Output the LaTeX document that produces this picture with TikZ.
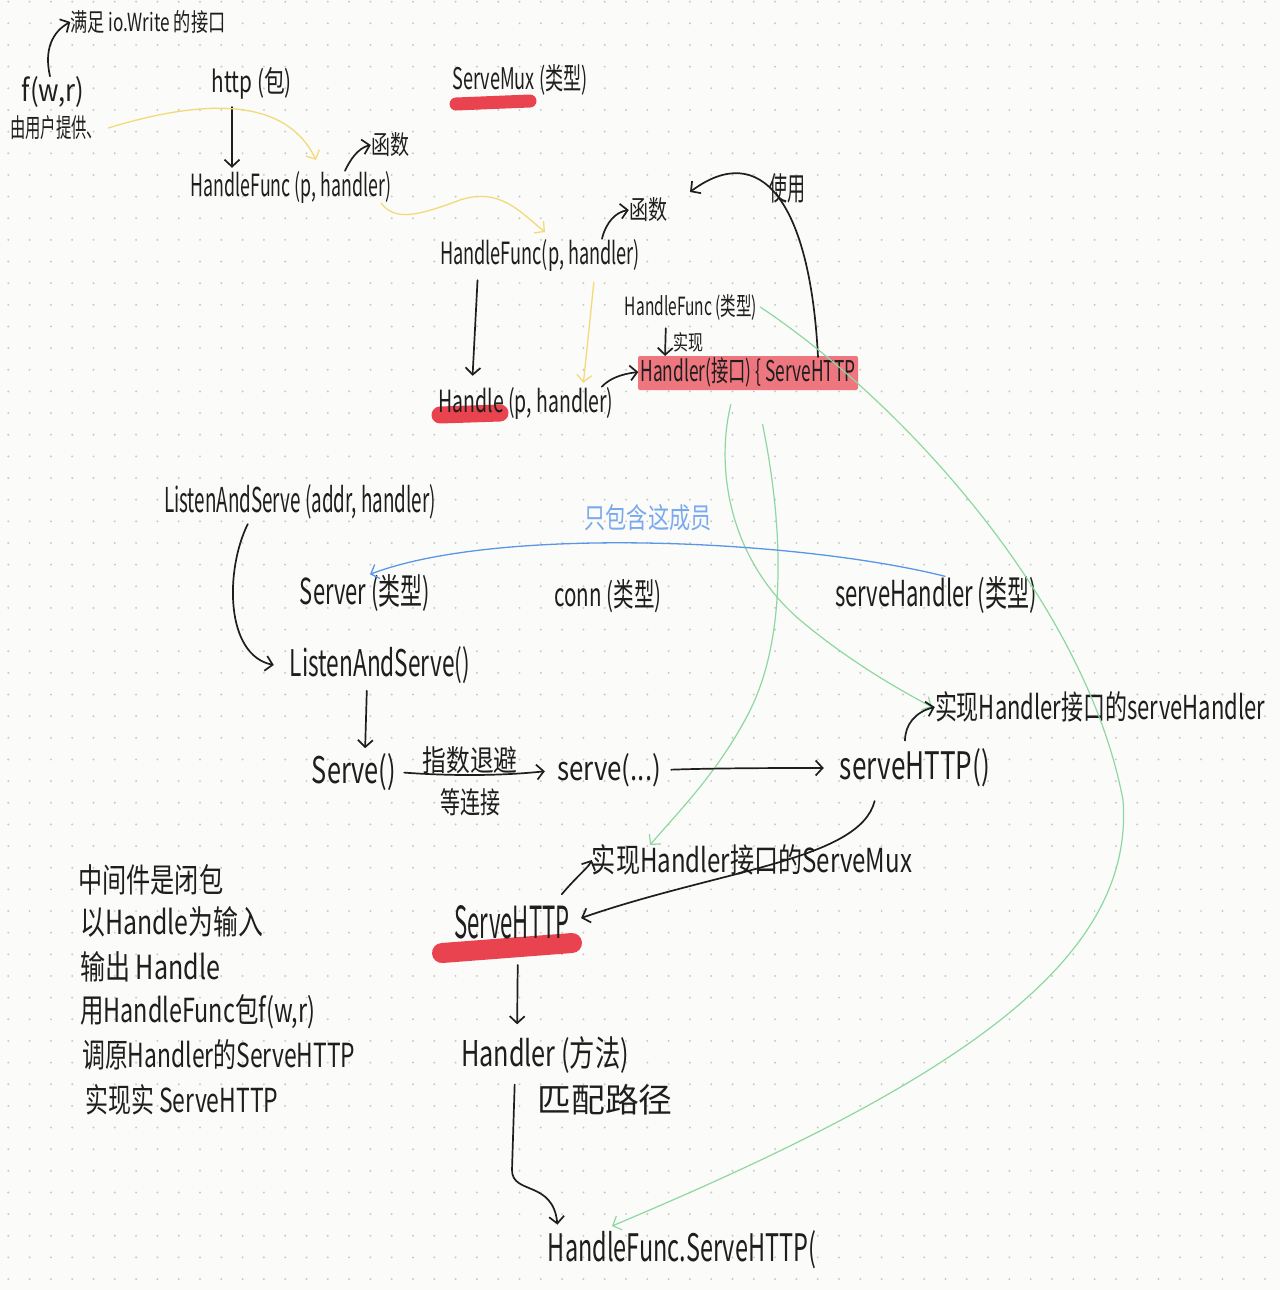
\documentclass[tikz,border=0pt]{standalone}
\usepackage{graphicx}
\usepackage{fontspec}
\setmainfont{Noto Sans CJK SC}
\usetikzlibrary{arrows.meta}
\definecolor{ink}{HTML}{1E1E1E}
\definecolor{paper}{HTML}{FBFBF9}
\definecolor{dotc}{HTML}{C9C9C9}
\definecolor{markred}{HTML}{E8303E}
\definecolor{hlyellow}{HTML}{F2DA7A}
\definecolor{hlgreen}{HTML}{8DD8A0}
\definecolor{hlblue}{HTML}{5A96E6}
\definecolor{bluetext}{HTML}{7AAAEE}
\newcommand{\hw}[3]{\resizebox{#1pt}{#2pt}{#3}}
\begin{document}
\begin{tikzpicture}[x=1pt,y=-1pt,
  lbl/.style={inner sep=0pt, text=ink},
  blk/.style={draw=ink, line width=1.7pt, line cap=round, line join=round},
  arr/.style={-{Straight Barb[length=7pt,width=15pt]}},
  ylw/.style={draw=hlyellow, line width=1.3pt, line cap=round},
  grn/.style={draw=hlgreen, line width=1.2pt, line cap=round},
  blu/.style={draw=hlblue, line width=1.3pt, line cap=round},
  redmark/.style={draw=markred, line cap=round, opacity=0.9}]
\useasboundingbox (0,0) rectangle (1280,1290);
\fill[paper] (0,0) rectangle (1280,1290);
\foreach \i in {0,...,59}{\foreach \j in {0,...,59}{\fill[dotc] (8.3+21.3*\i,1.7+21.65*\j) circle (1.1pt);}}
% highlights
\draw[redmark, line width=13pt] (456,104) -- (530,101);
\draw[redmark, line width=17pt] (440,415) -- (500,413);
\draw[redmark, line width=20pt] (442,953) -- (572,943);
\fill[markred, opacity=0.65, rounded corners=2pt] (638,356) rectangle (858,390);
% texts
\node[lbl] (io) at (148,22) {\hw{155}{21}{满足 io.Write 的接口}};
\node[lbl] (f) at (53,92) {\hw{62}{25}{f(w,r)}};
\node[lbl] (user) at (56,128) {\hw{92}{22}{由用户提供、}};
\node[lbl] (http) at (252,83) {\hw{80}{25}{http (包)}};
\node[lbl] (mux) at (520,80) {\hw{135}{25}{ServeMux (类型)}};
\node[lbl] (hf1) at (291,187) {\hw{200}{25}{HandleFunc (p, handler)}};
\node[lbl] (fn1) at (390,145) {\hw{38}{22}{函数}};
\node[lbl] (hf2) at (540,255) {\hw{200}{25}{HandleFunc(p, handler)}};
\node[lbl] (fn2) at (648,210) {\hw{38}{22}{函数}};
\node[lbl] (use) at (787,188) {\hw{36}{27}{使用}};
\node[lbl] (hftype) at (691,307) {\hw{132}{21}{HandleFunc (类型)}};
\node[lbl] (impl1) at (688,342) {\hw{30}{18}{实现}};
\node[lbl] (handler) at (748,372) {\hw{215}{24}{Handler(接口) \{ ServeHTTP}};
\node[lbl] (handle) at (526,403) {\hw{175}{25}{Handle (p, handler)}};
\node[lbl] (las1) at (300,502) {\hw{272}{28}{ListenAndServe (addr, handler)}};
\node[lbl, text=bluetext] (members) at (648,518) {\hw{127}{24}{只包含这成员}};
\node[lbl] (server) at (365,593) {\hw{130}{30}{Server (类型)}};
\node[lbl] (conn) at (608,596) {\hw{107}{27}{conn (类型)}};
\node[lbl] (sh) at (936,595) {\hw{202}{30}{serveHandler (类型)}};
\node[lbl] (las2) at (380,665) {\hw{180}{30}{ListenAndServe()}};
\node[lbl] (serve) at (354,772) {\hw{84}{30}{Serve()}};
\node[lbl] (backoff) at (470,760) {\hw{95}{25}{指数退避}};
\node[lbl] (wait) at (470,802) {\hw{60}{25}{等连接}};
\node[lbl] (serve2) at (609,770) {\hw{104}{27}{serve(...)}};
\node[lbl] (shttp) at (915,768) {\hw{150}{31}{serveHTTP()}};
\node[lbl] (implsh) at (1100,707) {\hw{330}{28}{实现Handler接口的serveHandler}};
\node[lbl] (implmux) at (752,860) {\hw{320}{28}{实现Handler接口的ServeMux}};
\node[lbl] (SHmain) at (512,922) {\hw{115}{33}{ServeHTTP}};
\node[lbl] (hmethod) at (545,1055) {\hw{168}{30}{Handler (方法)}};
\node[lbl] (match) at (605,1100) {\hw{135}{28}{匹配路径}};
\node[lbl] (hfsh) at (682,1250) {\hw{268}{31}{HandleFunc.ServeHTTP(}};
\node[lbl, anchor=west] (n1) at (78,880) {\hw{145}{28}{中间件是闭包}};
\node[lbl, anchor=west] (n2) at (80,922) {\hw{183}{28}{以Handle为输入}};
\node[lbl, anchor=west] (n3) at (80,967) {\hw{140}{28}{输出 Handle}};
\node[lbl, anchor=west] (n4) at (80,1012) {\hw{235}{28}{用HandleFunc包f(w,r)}};
\node[lbl, anchor=west] (n5) at (82,1055) {\hw{273}{28}{调原Handler的ServeHTTP}};
\node[lbl, anchor=west] (n6) at (85,1100) {\hw{193}{28}{实现实 ServeHTTP}};
% free ends
\coordinate (yend1) at (316,160);
\coordinate (yend2) at (545,232);
\coordinate (useend) at (690,192);
\coordinate (gend) at (612,1226);
\coordinate (gendb) at (650,845);
% connectors
\draw[blk,arr] ([xshift=-3pt]f.north) .. controls (44,50) and (52,32) .. (io.west);
\draw[blk,arr,shorten <=8pt,shorten >=3pt] ([xshift=-20pt]http.south) -- ([xshift=-59pt]hf1.north);
\draw[ylw,arr] ([xshift=6pt]user.east) .. controls (200,100) and (285,95) .. (yend1);
\draw[blk,arr] ([xshift=54pt]hf1.north) .. controls (350,160) and (358,148) .. (fn1.west);
\draw[ylw,arr] ([xshift=-10pt]hf1.south east) .. controls (395,222) and (420,215) .. (460,200) .. controls (500,187) and (520,212) .. (yend2);
\draw[blk,arr] ([xshift=62pt]hf2.north) .. controls (606,222) and (616,212) .. (fn2.west);
\draw[blk,arr,shorten <=9pt,shorten >=11pt] ([xshift=-62pt]hf2.south) -- ([xshift=-54pt]handle.north);
\draw[ylw,arr,shorten <=11pt,shorten >=4pt] ([xshift=55pt]hf2.south) -- ([xshift=57pt]handle.north);
\draw[blk,arr] ([xshift=-12pt]handle.north east) .. controls (610,378) and (622,374) .. ([xshift=-2pt]handler.west);
\draw[blk,arr,shorten <=8pt,shorten >=1pt] ([xshift=-25pt]hftype.south) -- ([xshift=-83pt]handler.north);
\draw[blk,arr] ([xshift=70pt]handler.north) .. controls (810,200) and (760,140) .. (useend);
\draw[grn,arr] ([xshift=3pt]hftype.east) .. controls (900,400) and (1085,600) .. (1123,800) .. controls (1135,960) and (960,1080) .. (gend);
\draw[grn,arr,shorten <=18pt] ([xshift=-13pt]handler.south) .. controls (715,470) and (730,560) .. (800,620) .. controls (850,662) and (900,690) .. ([xshift=-3pt]implsh.west);
\draw[grn,arr,shorten <=38pt] ([xshift=7pt]handler.south) .. controls (782,520) and (790,640) .. (745,720) .. controls (715,775) and (680,810) .. (gendb);
\draw[blu,arr] ([xshift=9pt]sh.north) .. controls (800,540) and (500,525) .. ([xshift=5pt]server.north);
\draw[blk,arr,shorten <=5pt] ([xshift=-50pt]las1.south) .. controls (225,570) and (225,655) .. ([xshift=-16pt]las2.west);
\draw[blk,arr,shorten <=7pt,shorten >=5pt] ([xshift=-13pt]las2.south) -- ([xshift=11pt]serve.north);
\draw[blk,arr,shorten <=8pt,shorten >=12pt] (serve.east) .. controls (450,776) and (500,776) .. (serve2.west);
\draw[blk,arr,shorten <=10pt,shorten >=16pt] (serve2.east) .. controls (720,768) and (780,768) .. (shttp.west);
\draw[blk,arr,shorten <=8pt] ([xshift=-10pt]shttp.north) .. controls (905,725) and (915,712) .. (implsh.west);
\draw[blk,arr,shorten <=14pt,shorten >=12pt] ([xshift=-37pt]shttp.south) .. controls (860,860) and (720,870) .. (SHmain.east);
\draw[blk,arr,shorten <=14pt] ([xshift=-17pt]SHmain.north east) .. controls (578,875) and (588,868) .. (implmux.west);
\draw[blk,arr,shorten <=26pt,shorten >=12pt] ([xshift=6pt]SHmain.south) -- ([xshift=-28pt]hmethod.north);
\draw[blk,arr,shorten <=11pt,shorten >=6pt] ([xshift=-30pt]hmethod.south) -- (512,1170) .. controls (512,1195) and (553,1180) .. ([xshift=-124pt]hfsh.north);
\end{tikzpicture}
\end{document}
